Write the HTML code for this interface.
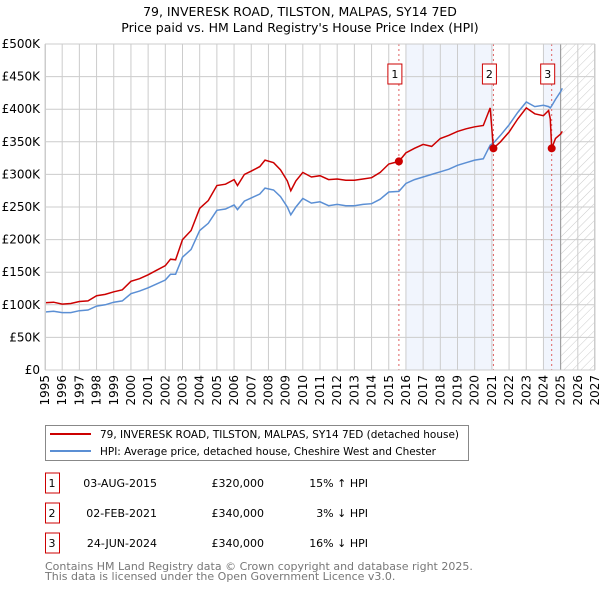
<!DOCTYPE html>
<html><head><meta charset="utf-8"><style>
body{margin:0;background:#fff;}
svg{display:block;font-family:"DejaVu Sans","Liberation Sans",sans-serif;}
</style></head><body>
<svg id="chart" width="600" height="590" viewBox="0 0 600 590">
<defs><pattern id="hatch" width="6" height="6" patternUnits="userSpaceOnUse" patternTransform="rotate(45)"><line x1="0" y1="0" x2="0" y2="6" stroke="#ccc" stroke-width="1"/></pattern></defs>
<text x="300" y="16" text-anchor="middle" font-size="12.5">79, INVERESK ROAD, TILSTON, MALPAS, SY14 7ED</text>
<text x="300" y="32" text-anchor="middle" font-size="12.5">Price paid vs. HM Land Registry's House Price Index (HPI)</text>
<g id="plot"></g>
<g>
<rect x="45.5" y="425.5" width="423" height="35" fill="#fff" stroke="#888"/>
<line x1="50" y1="434" x2="91" y2="434" stroke="#cc0000" stroke-width="2"/>
<text x="100" y="438" font-size="11" textLength="359" lengthAdjust="spacingAndGlyphs">79, INVERESK ROAD, TILSTON, MALPAS, SY14 7ED (detached house)</text>
<line x1="50" y1="451" x2="91" y2="451" stroke="#5b8fd4" stroke-width="2"/>
<text x="100" y="455" font-size="11" textLength="336" lengthAdjust="spacingAndGlyphs">HPI: Average price, detached house, Cheshire West and Chester</text>
</g>
<g id="table" font-size="11"></g>
<text x="45" y="570" font-size="11" fill="#777">Contains HM Land Registry data © Crown copyright and database right 2025.</text>
<text x="45" y="580" font-size="11" fill="#777">This data is licensed under the Open Government Licence v3.0.</text>
</svg>
<script>
const hpiYears=[1995,1995.5,1996,1996.5,1997,1997.5,1998,1998.5,1999,1999.5,2000,2000.5,2001,2001.5,2002,2002.3,2002.6,2003,2003.5,2004,2004.5,2005,2005.5,2006,2006.2,2006.6,2007,2007.5,2007.8,2008.3,2008.7,2009.1,2009.3,2009.6,2010,2010.5,2011,2011.5,2012,2012.5,2013,2013.5,2014,2014.5,2015,2015.59,2016,2016.5,2017,2017.5,2018,2018.5,2019,2019.5,2020,2020.5,2020.9,2021.09,2021.5,2022,2022.5,2023,2023.5,2024,2024.3,2024.4,2024.48,2024.7,2025,2025.1];
const hpiValues=[89,90,88,88,91,92,98,100,104,106,117,121,126,132,138,147,147,173,185,214,225,245,247,253,246,259,264,270,279,276,266,250,238,250,263,256,258,252,254,252,252,254,255,262,273,274,286,292,296,300,304,308,314,318,322,324,345,348,360,376,395,411,404,406,404,402,405,415,427,432];
const priceValues=[103,104,101,102,105,106,114,116,120,123,136,140,146,153,160,170,169,200,214,248,260,283,285,292,283,300,305,312,322,318,307,290,275,290,303,296,298,292,293,291,291,293,295,303,316,320,333,340,346,343,355,360,366,370,373,375,402,340,350,365,385,402,393,390,398,385,340,355,362,366];
const saleYears=[2015.59,2021.09,2024.48];
const saleValues=[320,340,340];
const saleDates=["03-AUG-2015","02-FEB-2021","24-JUN-2024"];
const salePrices=["£320,000","£340,000","£340,000"];
const saleHpi=["15% ↑ HPI","3% ↓ HPI","16% ↓ HPI"];
const yTicks=[0,50,100,150,200,250,300,350,400,450,500];
const yTickLabels=["£0","£50K","£100K","£150K","£200K","£250K","£300K","£350K","£400K","£450K","£500K"];
const xTicks=[1995,1996,1997,1998,1999,2000,2001,2002,2003,2004,2005,2006,2007,2008,2009,2010,2011,2012,2013,2014,2015,2016,2017,2018,2019,2020,2021,2022,2023,2024,2025,2026,2027];

const NS="http://www.w3.org/2000/svg";
const L=45,R=595,T=44,B=370;
const x=y=>L+(y-1995)/(2027-1995)*(R-L);
const yv=v=>B-v/500*(B-T);
const plot=document.getElementById('plot');
function mk(tag,attrs,parent){const e=document.createElementNS(NS,tag);for(const k in attrs)e.setAttribute(k,attrs[k]);(parent||plot).appendChild(e);return e;}
let e=mk('rect',{x:x(2016),y:T,width:x(2021.09)-x(2016),height:B-T,fill:'#eef3fc',opacity:0.8});


e=mk('rect',{x:x(2024),y:T,width:x(2025)-x(2024),height:B-T,fill:'#eef3fc',opacity:0.8});


e=mk('rect',{x:x(2025),y:T,width:R-x(2025),height:B-T,fill:'url(#hatch)'});


yTicks.forEach((v,i)=>{
 const g=mk('line',{x1:L,x2:R,y1:yv(v),y2:yv(v),stroke:'#ccc','stroke-width':1});
 
 
 const t=mk('text',{x:L-5,y:yv(v)+4,'text-anchor':'end','font-size':12});
 t.textContent=yTickLabels[i];
 
 
});
xTicks.forEach(yr=>{
 const g=mk('line',{x1:x(yr),x2:x(yr),y1:T,y2:B,stroke:'#ccc','stroke-width':1});
 
 
 const t=mk('text',{x:0,y:0,'text-anchor':'end','font-size':12,transform:`translate(${x(yr)+4},375) rotate(-90)`});
 t.textContent=yr;
 
 
});
e=mk('line',{x1:x(2025),x2:x(2025),y1:T,y2:B,stroke:'#999','stroke-width':1});


saleYears.forEach((s,i)=>{
 const l=mk('line',{x1:x(s),x2:x(s),y1:T,y2:B,stroke:'#e06060','stroke-width':1,'stroke-dasharray':'2,3'});
 
 
});
const pts=(vals)=>hpiYears.map((yr,i)=>x(yr).toFixed(1)+','+yv(vals[i]).toFixed(1)).join(' ');
e=mk('polyline',{points:pts(hpiValues),fill:'none',stroke:'#5b8fd4','stroke-width':1.5});


e=mk('polyline',{points:pts(priceValues),fill:'none',stroke:'#cc0000','stroke-width':1.5});


saleYears.forEach((s,i)=>{
 const c=mk('circle',{cx:x(s),cy:yv(saleValues[i]),r:4,fill:'#cc0000'});
 
 
 const bx=x(s)-4;
 const r=mk('rect',{x:bx-7,y:64,width:14,height:20,fill:'#fff',stroke:'#cc0000'});
 
 
 const t=mk('text',{x:bx,y:78,'text-anchor':'middle','font-size':11});
 t.textContent=i+1;
 
 
});
e=mk('rect',{x:L+0.5,y:T,width:R-L-1,height:B-T,fill:'none',stroke:'#ccc'});


const tb=document.getElementById('table');
saleDates.forEach((d,i)=>{
 const yy=483+i*30;
 const r=mk('rect',{x:45.5,y:yy-10,width:14,height:20,fill:'#fff',stroke:'#cc0000'},tb);
 
 
 const a=mk('text',{x:52,y:yy+4,'text-anchor':'middle'},tb);a.textContent=i+1;
 
 
 const b=mk('text',{x:157,y:yy+4,'text-anchor':'end'},tb);b.textContent=d;
 
 
 const c=mk('text',{x:264,y:yy+4,'text-anchor':'end'},tb);c.textContent=salePrices[i];
 
 
 const h=mk('text',{x:368,y:yy+4,'text-anchor':'end'},tb);h.textContent=saleHpi[i];
 
 
});
</script>
</body></html>
